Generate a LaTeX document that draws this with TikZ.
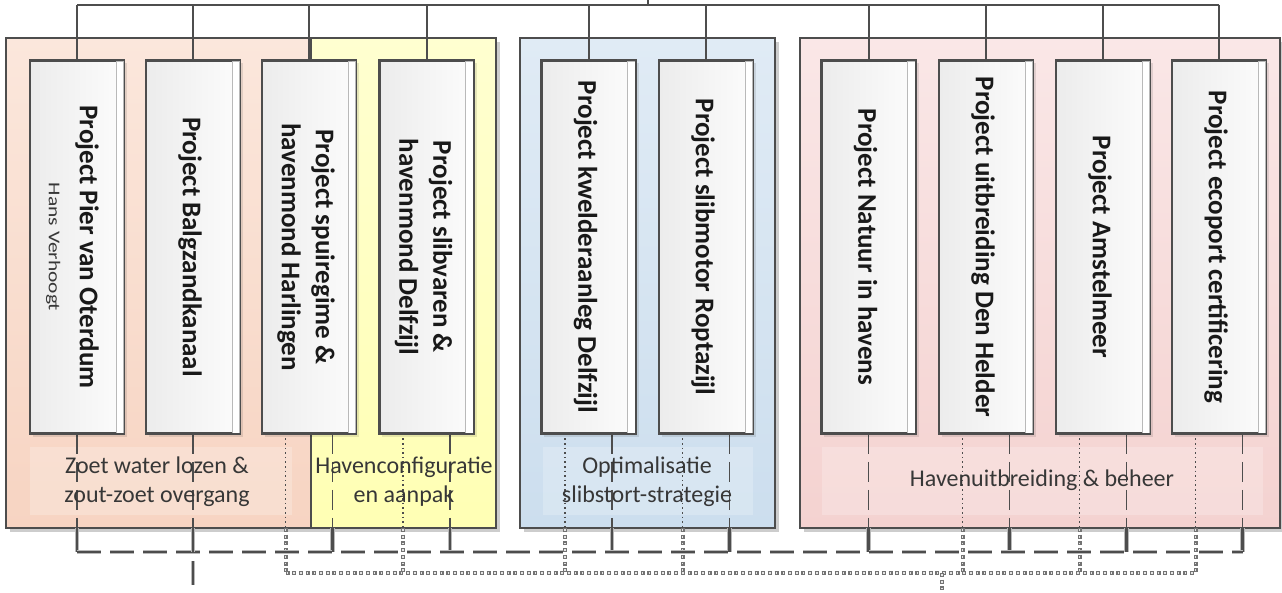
\documentclass[tikz,border=0pt]{standalone}
\usepackage{fontspec}
\usepackage{graphicx}
\setmainfont{Carlito}
\definecolor{lineC}{HTML}{4d4d4d}
\definecolor{shadowC}{RGB}{185,185,185}
\definecolor{dotC}{RGB}{115,115,115}
\definecolor{grpShadow}{RGB}{205,205,205}
\definecolor{orT}{RGB}{251,231,220}
\definecolor{orB}{RGB}{247,212,194}
\definecolor{yeT}{RGB}{255,255,208}
\definecolor{yeB}{RGB}{255,255,180}
\definecolor{blT}{RGB}{224,235,245}
\definecolor{blB}{RGB}{204,222,238}
\definecolor{reT}{RGB}{250,231,231}
\definecolor{reB}{RGB}{244,210,208}
\definecolor{boxL}{RGB}{236,236,236}
\definecolor{boxR}{RGB}{252,252,252}
\definecolor{stripC}{RGB}{185,185,185}
\definecolor{txt}{RGB}{25,25,25}
\definecolor{txt2}{RGB}{55,55,55}
\begin{document}
\begin{tikzpicture}[x=1pt,y=-1pt,
  grp/.style={draw=lineC, line width=1.6pt},
  grpshadow/.style={fill=grpShadow},
  panel/.style={fill=white, fill opacity=0.22},
  proj/.style={draw=lineC, line width=1.6pt, left color=boxL, right color=boxR,
    minimum width=93pt, minimum height=372pt, inner sep=0pt},
  projshadow/.style={fill=black, fill opacity=0.10},
  strip/.style={draw=stripC, line width=0.8pt, fill=white},
  ptext/.style={rotate=-90, font=\fontsize{27}{34}\selectfont\bfseries, text=txt, align=center, inner sep=0pt},
  glabel/.style={font=\fontsize{24}{29}\selectfont, text=txt2, align=center, inner sep=0pt},
  topline/.style={draw=lineC, line width=2pt},
  dashin/.style={draw=lineC, line width=1.6pt, dash pattern=on 20pt off 8pt},
  dashout/.style={draw=lineC, line width=2.6pt, dash pattern=on 24pt off 9pt,
    preaction={draw=shadowC, line width=4.8pt, dash pattern=on 24pt off 9pt}},
  dotin/.style={draw=lineC, line width=1.6pt, dash pattern=on 1.6pt off 3pt},
  dotout/.style={draw=dotC, line width=4pt, dash pattern=on 4pt off 2.7pt,
    postaction={draw=black!10, line width=1.6pt, dash pattern=on 1.6pt off 5.1pt, dash phase=5.5pt}},
]
\useasboundingbox (0,0) rectangle (1282,593);
\clip (0,0) rectangle (1282,593);
\fill[white] (0,0) rectangle (1282,593);

% ---- groups ----
\fill[grpshadow] (10,42) rectangle (500,532);
\fill[grpshadow] (524,42) rectangle (779,532);
\fill[grpshadow] (804,42) rectangle (1286,532);

\path[top color=orT, bottom color=orB] (6,38) rectangle (311,528);
\path[top color=yeT, bottom color=yeB] (311,38) rectangle (496,528);
\path[top color=blT, bottom color=blB] (520,38) rectangle (775,528);
\path[top color=reT, bottom color=reB] (800,38) rectangle (1280,528);

\fill[panel] (30,447) rectangle (292,515);
\fill[panel] (543,447) rectangle (753,515);
\fill[panel] (822,447) rectangle (1263,515);

\draw[grp] (6,38) rectangle (311,528);
\draw[grp] (311,38) rectangle (496,528);
\draw[grp] (520,38) rectangle (775,528);
\draw[grp] (800,38) rectangle (1280,528);

% ---- project boxes (positions) ----
\path
  (77,247)    node[proj] (b1) {}
  (193,247)   node[proj] (b2) {}
  (309,247)   node[proj] (b3) {}
  (426.5,247) node[proj] (b4) {}
  (588.5,247) node[proj] (b5) {}
  (706,247)   node[proj] (b6) {}
  (868.5,247) node[proj] (b7) {}
  (986,247)   node[proj] (b8) {}
  (1103,247)  node[proj] (b9) {}
  (1219,247)  node[proj] (b10) {};

% ---- top connector tree ----
\coordinate (topRoot) at (648,-3);
\coordinate (topBus) at (0,5);
\draw[topline] (topRoot) -- (topRoot |- topBus);
\draw[topline] (b1.north |- topBus) -- (b10.north |- topBus);
\foreach \i in {1,...,10} {
  \draw[topline] (b\i.north |- topBus) -- (b\i.north);
}

% ---- bottom connector trees ----
\coordinate (gbot) at (0,528);
\coordinate (dbus) at (0,552);
\coordinate (tbus) at (0,573);
\coordinate (droot) at (193,610);
\coordinate (troot) at (942,610);

% dotted tree
\foreach \i in {3,4,5,6,8,9,10} {
  \coordinate (t\i) at ([xshift=-23.5pt]b\i.south);
  \draw[dotin] (t\i) -- (t\i |- gbot);
  \draw[dotout] (t\i |- gbot) -- (t\i |- tbus);
}
\draw[dotout] (t3 |- tbus) -- (t10 |- tbus);
\draw[dotout] (troot |- tbus) -- (troot);

% dashed tree
\foreach \i/\o in {1/0,2/0,3/23.5,4/23.5,5/23.5,6/23.5,7/0,8/23.5,9/23.5,10/23.5} {
  \coordinate (d\i) at ([xshift=\o pt]b\i.south);
  \draw[dashin] (d\i) -- (d\i |- gbot);
}
\foreach \i in {1,3,4,5,6,7,8,9,10} {
  \draw[dashout] (d\i |- gbot) -- (d\i |- dbus);
}
\draw[dashout] (d1 |- dbus) -- (d10 |- dbus);
\draw[dashout] (d2 |- gbot) -- (droot);

% ---- boxes drawn on top ----
\foreach \i in {1,...,10} {
  \fill[projshadow] ([xshift=3pt,yshift=-3pt]b\i.south west) rectangle ([xshift=3pt,yshift=-3pt]b\i.north east);
  \node[proj] at (b\i.center) {};
  \filldraw[strip] ([xshift=-8pt,yshift=-0.8pt]b\i.north east) rectangle ([xshift=-0.8pt,yshift=0.8pt]b\i.south east);
  \draw[lineC, line width=1.6pt] (b\i.north west) rectangle (b\i.south east);
}

% ---- box texts ----
\node[ptext] (x1) at ([xshift=-4.5pt]b1.center) {Project Pier van Oterdum\\[-3pt]{\fontsize{16.5}{20}\selectfont\mdseries\color{txt2}\scalebox{1.3}[1]{Hans Verhoogt}}};
\node[ptext] (x2) at ([xshift=-3pt]b2.center) {Project Balgzandkanaal};
\node[ptext] (x3) at ([xshift=-3pt]b3.center) {Project spuiregime \&\\havenmond Harlingen};
\node[ptext] (x4) at ([xshift=-3pt]b4.center) {Project slibvaren \&\\havenmond Delfzijl};
\node[ptext] (x5) at ([xshift=-3pt]b5.center) {Project kwelderaanleg Delfzijl};
\node[ptext] (x6) at ([xshift=-3pt]b6.center) {Project slibmotor Roptazijl};
\node[ptext] (x7) at ([xshift=-3pt]b7.center) {Project Natuur in havens};
\node[ptext] (x8) at ([xshift=-3pt]b8.center) {Project uitbreiding Den Helder};
\node[ptext] (x9) at ([xshift=-3pt]b9.center) {Project Amstelmeer};
\node[ptext] (x10) at ([xshift=-3pt]b10.center) {Project ecoport certificering};

% ---- group labels ----
\node[glabel] (l1) at (157,482) {Zoet water lozen \&\\zout-zoet overgang};
\node[glabel] (l2) at (404,482) {Havenconfiguratie\\en aanpak};
\node[glabel] (l3) at (647,482) {Optimalisatie\\slibstort-strategie};
\node[glabel] (l4) at (1042,480) {Havenuitbreiding \& beheer};
\end{tikzpicture}
\end{document}
